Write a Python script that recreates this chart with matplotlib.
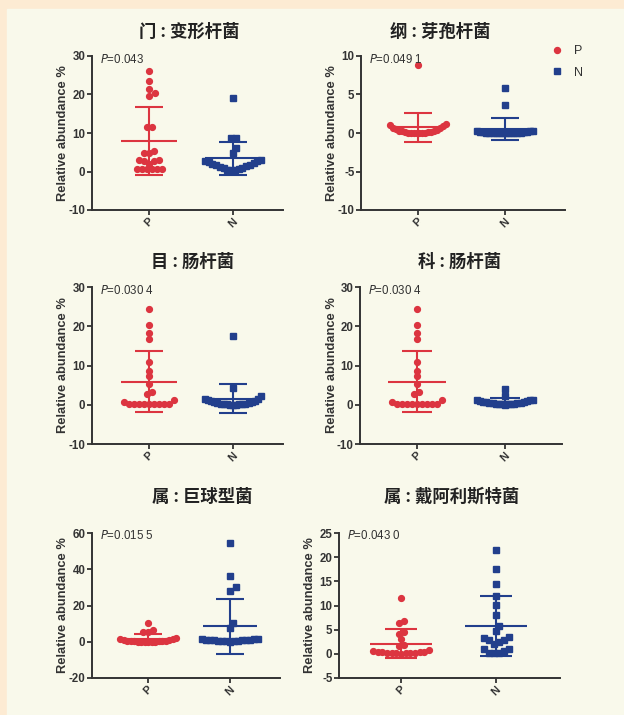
import numpy as np
import matplotlib.pyplot as plt
from matplotlib.lines import Line2D
from matplotlib.patches import Rectangle

plt.rcParams['font.family'] = ['Liberation Sans', 'DejaVu Sans']
plt.rcParams['axes.unicode_minus'] = False

W, H, DPI = 624, 715, 100

# %%
# Data (relative abundance %, P = patients, N = controls)

groups = ["P", "N"]
titles = ["门 : 变形杆菌", "纲 : 芽孢杆菌", "目 : 肠杆菌",
          "科 : 肠杆菌", "属 : 巨球型菌", "属 : 戴阿利斯特菌"]
p_values = ["0.043", "0.049 1", "0.030 4", "0.030 4", "0.015 5", "0.043 0"]

phylum_p = [26.0, 23.5, 21.4, 20.5, 19.6, 11.5, 11.5, 5.4, 4.7, 4.8, 2.9,
            2.6, 2.9, 2.8, 1.9, 0.7, 0.6, 0.6, 0.6, 0.6, 0.7]
phylum_n = [19.2, 8.6, 8.6, 6.0, 4.9, 3.0, 2.8, 2.6, 2.4, 2.2, 2.0, 1.8,
            1.6, 1.4, 1.2, 1.0, 0.8, 0.6, 0.5, 0.4, 0.3]

class_p = [8.8, 1.2, 1.0, 0.9, 0.7, 0.6, 0.5, 0.4, 0.3, 0.25, 0.2, 0.15,
           0.1, 0.1, 0.05, 0.05, 0.02, 0.02, 0.01, 0.01, 0.0]
class_n = [5.8, 3.7, 0.3, 0.25, 0.2, 0.15, 0.1, 0.1, 0.08, 0.05, 0.05,
           0.03, 0.02, 0.02, 0.01, 0.01, 0.0, 0.0, 0.0, 0.0, 0.0]

order_p = [24.4, 20.3, 18.4, 16.8, 10.8, 8.7, 7.3, 5.4, 3.2, 2.8, 1.1, 0.6,
           0.3, 0.3, 0.3, 0.3, 0.3, 0.3, 0.3, 0.3, 0.3]
order_n = [17.4, 4.3, 2.2, 1.5, 1.4, 1.2, 1.0, 0.9, 0.7, 0.6, 0.5, 0.4,
           0.3, 0.25, 0.2, 0.15, 0.1, 0.1, 0.05, 0.05, 0.02]

family_p = order_p
family_n = [4.0, 2.2, 1.3, 1.2, 1.1, 1.0, 0.9, 0.8, 0.7, 0.6, 0.5, 0.5,
            0.4, 0.4, 0.3, 0.3, 0.2, 0.2, 0.1, 0.1, 0.05]

mega_p = [10.1, 6.4, 5.6, 5.4, 1.8, 1.6, 1.3, 1.0, 0.8, 0.6, 0.5, 0.4,
          0.3, 0.2, 0.2, 0.1, 0.1, 0.05, 0.05, 0.02, 0.02]
mega_n = [54.4, 36.3, 30.4, 28.2, 10.1, 7.7, 1.5, 1.4, 1.3, 1.2, 1.1, 1.0,
          0.9, 0.8, 0.7, 0.6, 0.5, 0.4, 0.3, 0.2, 0.1]

dial_p = [11.5, 6.7, 6.3, 4.6, 4.2, 3.0, 1.9, 1.7, 0.8, 0.5, 0.4, 0.35,
          0.3, 0.3, 0.25, 0.2, 0.2, 0.15, 0.1, 0.1, 0.05]
dial_n = [21.4, 17.5, 14.5, 12.0, 10.1, 8.1, 5.8, 4.8, 3.4, 3.2, 2.8, 2.8,
          2.5, 2.1, 1.1, 1.1, 0.5, 0.2, 0.15, 0.15]

panels = [(phylum_p, phylum_n), (class_p, class_n), (order_p, order_n),
          (family_p, family_n), (mega_p, mega_n), (dial_p, dial_n)]
yticks = [[-10, 0, 10, 20, 30], [-10, -5, 0, 5, 10], [-10, 0, 10, 20, 30],
          [-10, 0, 10, 20, 30], [-20, 0, 20, 40, 60], [-5, 0, 5, 10, 15, 20, 25]]

# axes boxes in pixels: left, right, top, bottom, x of P, x of N, ylabel centre
boxes = [(92, 283, 56, 210, 149, 233, 63), (361, 565, 56, 210, 418, 505, 332),
         (92, 283, 287, 444, 149, 233, 63), (360, 562, 287, 444, 417, 505, 332),
         (92, 280, 533, 678, 148, 230, 63), (339, 560, 533, 678, 401, 496, 310)]
title_y = [32, 32, 262, 262, 497, 497]
title_x = [189, 440, 193, 460, 202, 452]

RED = "#DC3540"
BLUE = "#223F8C"
INK = "#333333"


def swarm(values, ppu_y, ppu_x, gap=3.0, step=5.0, max_w=56.0, hit=5.0):
    """Prism-like scatter: rows of close values fanned out, larger values outside"""
    values = np.asarray(values, dtype=float)
    order = np.argsort(values, kind="stable")
    ypx = values * ppu_y
    rows, cur = [], [order[0]]
    for a, b in zip(order[:-1], order[1:]):
        if ypx[b] - ypx[a] > gap:
            rows.append(cur)
            cur = []
        cur.append(b)
    rows.append(cur)

    xpx = np.zeros(len(values))
    done = []
    for row in rows:
        n = len(row)
        sp = step if n < 2 else min(step, max_w / (n - 1))
        pos = (np.arange(n) - (n - 1) / 2) * sp
        pos = pos[np.argsort(np.abs(pos) + 1e-6 * pos, kind="stable")]
        for k in range(40):
            shift = (k + 1) // 2 * 3.0 * (1 if k % 2 else -1)
            ok = all((p + shift - xpx[j]) ** 2 + (ypx[i] - ypx[j]) ** 2 >= hit ** 2
                     for p, i in zip(pos, row) for j in done)
            if ok:
                break
        xpx[row] = pos + shift
        done.extend(row)
    return xpx / ppu_x


fig = plt.figure(figsize=(W / DPI, H / DPI), dpi=DPI)
fig.patch.set_facecolor("#FDEBD3")
fig.add_artist(Rectangle((7 / W, 0), 1 - 7 / W, 1 - 9 / H,
                         transform=fig.transFigure, color="#F9F9EB", zorder=0))

for k, ((vp, vn), box) in enumerate(zip(panels, boxes)):
    left, right, top, bottom, xp, xn, ylab = box
    ax = fig.add_axes([left / W, 1 - bottom / H, (right - left) / W, (bottom - top) / H])
    ax.patch.set_alpha(0)
    unit = xn - xp
    ax.set_xlim(-(xp - left) / unit, 1 + (right - xn) / unit)
    ymin, ymax = yticks[k][0], yticks[k][-1]
    ax.set_ylim(ymin, ymax)
    ppu_y = (bottom - top) / (ymax - ymin)

    for i, (vals, col, mk, ms) in enumerate([(vp, RED, "o", 4.2), (vn, BLUE, "s", 3.8)]):
        vals = np.asarray(vals)
        xs = i + swarm(vals, ppu_y, unit)
        ax.plot(xs, vals, ls="none", marker=mk, ms=ms, color=col, mec=col, zorder=3)
        m, s = vals.mean(), vals.std(ddof=1)
        ax.hlines(m, i - 0.33, i + 0.33, color=col, lw=1.5, zorder=4)
        ax.vlines(i, m - s, m + s, color=col, lw=1.5, zorder=4)
        ax.hlines([m - s, m + s], i - 0.165, i + 0.165, color=col, lw=1.5, zorder=4)

    ax.set_xticks([0, 1])
    ax.set_xticklabels(groups, rotation=45, fontweight="bold", fontsize=8)
    ax.set_yticks(yticks[k])
    ax.set_yticklabels([str(t) for t in yticks[k]], fontweight="bold", fontsize=8.3)
    ax.tick_params(direction="out", length=3.5, width=1.3, color=INK, labelcolor=INK, pad=1.2)
    for side in ["top", "right"]:
        ax.spines[side].set_visible(False)
    for side in ["left", "bottom"]:
        ax.spines[side].set_linewidth(1.4)
        ax.spines[side].set_color(INK)
    ax.set_ylabel("Relative abundance %", fontweight="bold", fontsize=9.3, color=INK)
    ax.yaxis.set_label_coords(-(left - ylab - 6) / (right - left), 0.5)

    ax.text(8 / (right - left), 0.98, "$\\it{P}$=" + p_values[k], transform=ax.transAxes,
            ha="left", va="center", fontsize=8.3, color=INK)
    fig.text(title_x[k] / W, 1 - title_y[k] / H, titles[k], ha="center", va="center",
             fontsize=12.5, fontweight="bold", color="#222222",
             family=["Noto Sans CJK SC", "DejaVu Sans"])

handles = [Line2D([], [], ls="none", marker="o", ms=4.3, color=RED),
           Line2D([], [], ls="none", marker="s", ms=3.9, color=BLUE)]
fig.legend(handles, groups, loc="upper left", bbox_to_anchor=(544 / W, 1 - 39 / H),
           frameon=False, fontsize=9, handlelength=1.0, handletextpad=0.9,
           labelspacing=0.75, borderpad=0, labelcolor=INK)

fig.savefig("out.png", dpi=DPI, facecolor=fig.get_facecolor())
